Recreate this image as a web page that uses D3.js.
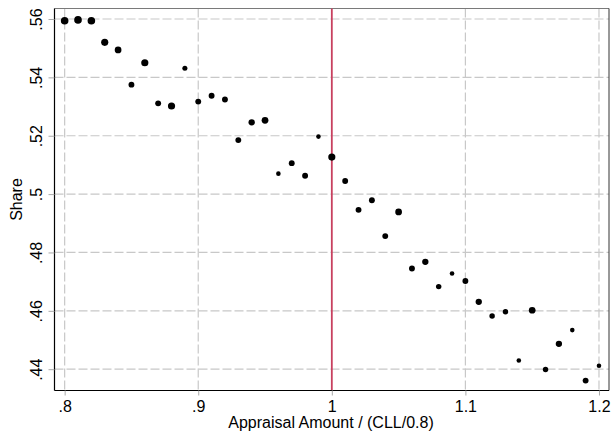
<!DOCTYPE html>
<html>
<head>
<meta charset="utf-8">
<script src="https://cdn.jsdelivr.net/npm/d3@7"></script>
<style>
  html, body { margin: 0; padding: 0; background: #fff; }
  svg { display: block; font-family: "Liberation Sans", Arial, sans-serif; }
</style>
</head>
<body>
<svg id="chart" width="616" height="434"></svg>
<script>
// ---- data ----
const xValues = [0.80,0.81,0.82,0.83,0.84,0.85,0.86,0.87,0.88,0.89,
                 0.90,0.91,0.92,0.93,0.94,0.95,0.96,0.97,0.98,0.99,
                 1.00,1.01,1.02,1.03,1.04,1.05,1.06,1.07,1.08,1.09,
                 1.10,1.11,1.12,1.13,1.14,1.15,1.16,1.17,1.18,1.19,1.20];
const shares = [0.5594,0.5597,0.5594,0.5520,0.5494,0.5375,0.5450,0.5311,0.5302,0.5431,
                0.5317,0.5337,0.5324,0.5185,0.5246,0.5253,0.5070,0.5106,0.5063,0.5197,
                0.5127,0.5045,0.4946,0.4979,0.4856,0.4939,0.4745,0.4768,0.4683,0.4728,
                0.4702,0.4631,0.4582,0.4597,0.4430,0.4602,0.4399,0.4487,0.4534,0.4361,
                0.4412];
// relative marker weights (bigger = larger marker)
const weights = [10,10,10,9,8,6,9,6,9,4,
                 6,6,6,6,7,8,3,6,6,3,
                 9,6,6,6,6,8,6,7,5,3,
                 6,7,5,5,3,8,5,7,3,6,
                 3];
const xTicks = [0.8, 0.9, 1.0, 1.1, 1.2];
const xTickLabels = [".8", ".9", "1", "1.1", "1.2"];
const yTicks = [0.44, 0.46, 0.48, 0.50, 0.52, 0.54, 0.56];
const yTickLabels = [".44", ".46", ".48", ".5", ".52", ".54", ".56"];
const refLine = 1.0;
const xTitle = "Appraisal Amount / (CLL/0.8)";
const yTitle = "Share";

// ---- layout ----
const svg = d3.select("#chart");
const L = 54.5, R = 609, T = 8.5, B = 390.5;
const FS = 16;

const x = d3.scaleLinear().domain([0.7924, 1.2075]).range([L, R]);
const y = d3.scaleLinear().domain([0.4327, 0.5636]).range([B, T]);
const r = d3.scaleLinear().domain([3, 10]).range([2.3, 3.8]);

const gridColor = "#c8c8c8";

// grid
svg.append("g").selectAll("line").data(yTicks).join("line")
  .attr("x1", L).attr("x2", R)
  .attr("y1", d => y(d)).attr("y2", d => y(d))
  .attr("stroke", gridColor).attr("stroke-width", 1.2)
  .attr("stroke-dasharray", "9,3");
svg.append("g").selectAll("line").data(xTicks.filter(d => d !== refLine)).join("line")
  .attr("x1", d => x(d)).attr("x2", d => x(d))
  .attr("y1", T).attr("y2", B)
  .attr("stroke", gridColor).attr("stroke-width", 1.2)
  .attr("stroke-dasharray", "9,3");

// frame (top / right)
svg.append("line").attr("x1", L).attr("x2", R).attr("y1", T).attr("y2", T)
  .attr("stroke", "#7a7a7a").attr("stroke-width", 1);
svg.append("line").attr("x1", R).attr("x2", R).attr("y1", T).attr("y2", B)
  .attr("stroke", "#333").attr("stroke-width", 1);

// reference line
svg.append("line")
  .attr("x1", x(refLine)).attr("x2", x(refLine))
  .attr("y1", T).attr("y2", B)
  .attr("stroke", "#c8405f").attr("stroke-width", 1.8);

// axes
const xAxis = d3.axisBottom(x).tickValues(xTicks)
  .tickFormat((d, i) => xTickLabels[i]).tickSize(5).tickSizeOuter(0);
const gx = svg.append("g").attr("transform", `translate(0,${B})`).call(xAxis);
gx.select(".domain").attr("stroke", "#000").attr("stroke-width", 1.2)
  .attr("d", `M${L},0H${R}`);
gx.selectAll(".tick line").attr("stroke", "#aaa");
gx.selectAll(".tick text").attr("font-size", FS).attr("fill", "#000")
  .attr("font-family", "Liberation Sans, Arial, sans-serif")
  .attr("y", 21).attr("dy", null);

const yAxis = d3.axisLeft(y).tickValues(yTicks)
  .tickFormat((d, i) => yTickLabels[i]).tickSize(6).tickSizeOuter(0);
const gy = svg.append("g").attr("transform", `translate(${L},0)`).call(yAxis);
gy.select(".domain").attr("stroke", "#000").attr("stroke-width", 1.2)
  .attr("d", `M0,${T}V${B}`);
gy.selectAll(".tick line").attr("stroke", "#aaa");
gy.selectAll(".tick text")
  .attr("font-size", FS).attr("fill", "#000")
  .attr("font-family", "Liberation Sans, Arial, sans-serif")
  .attr("x", null).attr("dy", null)
  .attr("text-anchor", "middle")
  .attr("transform", "translate(-12.5,0) rotate(-90)");

// points
svg.append("g").selectAll("circle").data(xValues).join("circle")
  .attr("cx", d => x(d))
  .attr("cy", (d, i) => y(shares[i]))
  .attr("r", (d, i) => r(weights[i]))
  .attr("fill", "#000");

// titles
svg.append("text").attr("x", 331).attr("y", 428)
  .attr("text-anchor", "middle").attr("font-size", FS).text(xTitle);
svg.append("text").attr("transform", `translate(22,${(T + B) / 2}) rotate(-90)`)
  .attr("text-anchor", "middle").attr("font-size", FS).text(yTitle);
</script>
</body>
</html>
